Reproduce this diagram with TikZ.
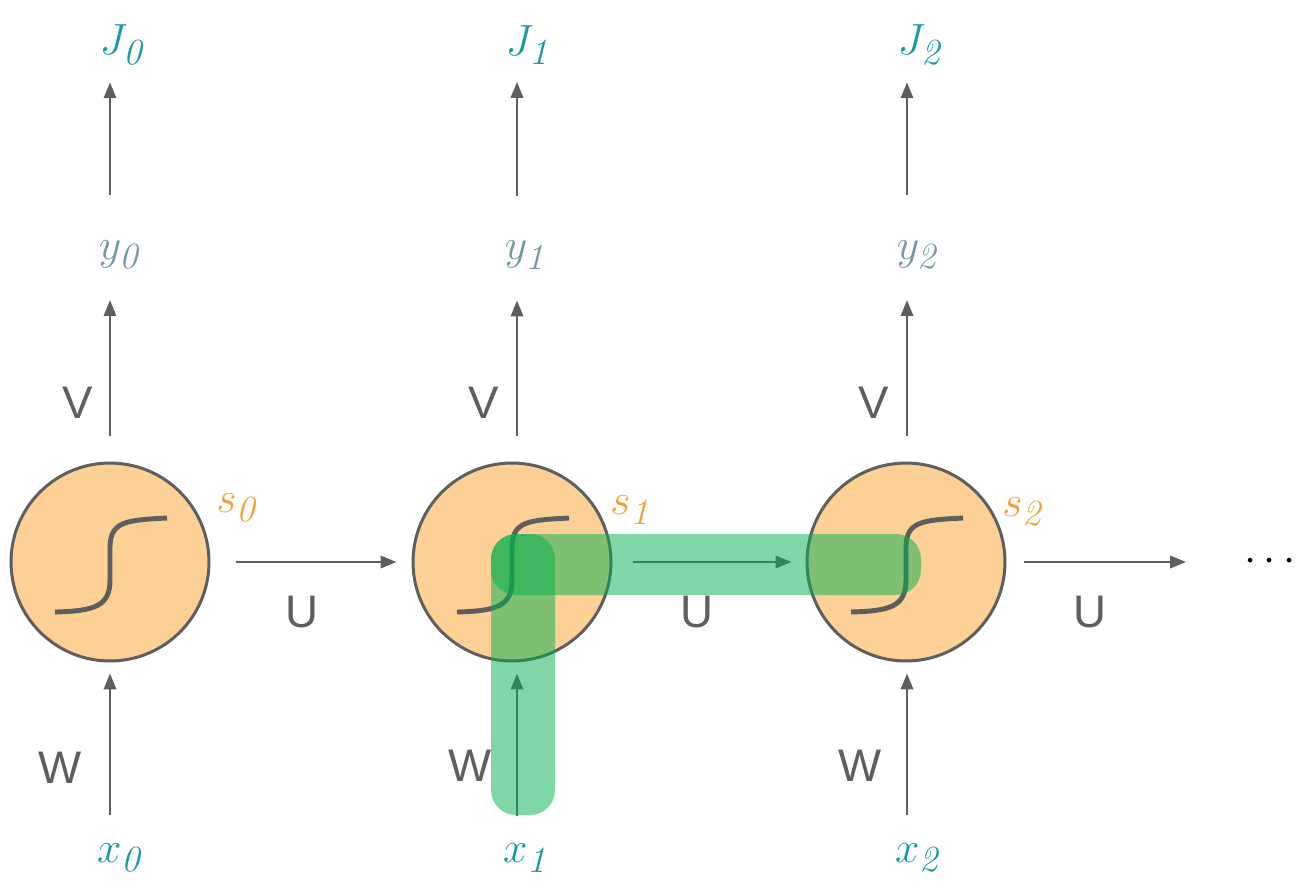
\documentclass[tikz,border=0pt]{standalone}
\usepackage{fontspec}
\usetikzlibrary{arrows.meta}
\newfontfamily\wtfont{Liberation Sans}
\DeclareMathSizes{26}{26}{21}{15}

\definecolor{cellfill}{HTML}{FDD096}
\definecolor{edgegray}{HTML}{5E5E5E}
\definecolor{iotxt}{HTML}{1A9AA0}
\definecolor{outtxt}{HTML}{7896A0}
\definecolor{statetxt}{HTML}{F5A033}
\definecolor{hlgreen}{HTML}{00B050}

\tikzset{
  cell/.style={circle, draw=edgegray, line width=1.7pt, fill=cellfill,
    minimum size=3.96cm, inner sep=0pt},
  link/.style={draw=edgegray, line width=1.3pt,
    -{Triangle[length=9pt,width=7pt]}},
  sigm/.style={draw=edgegray, line width=2.8pt},
  varlab/.style={font=\fontsize{26}{31}\selectfont, inner sep=0pt},
  wlab/.style={font=\wtfont\fontsize{26}{31}\selectfont, text=edgegray, inner sep=0pt},
  hlbar/.style={fill=hlgreen, fill opacity=0.5, rounded corners=0.5cm},
}

% sigmoide dentro la cella
\newcommand{\sigcurve}[1]{%
  \begin{scope}[shift={(#1.center)}]
    \draw[sigm] (-55,50) .. controls (-15,49) and (0,44) .. (0,18)
      -- (0,-16) .. controls (1,-40) and (15,-42) .. (57,-44);
  \end{scope}}

\begin{document}
\begin{tikzpicture}[x=0.02cm, y=-0.02cm]
    \useasboundingbox (0,0) rectangle (1298,894);

    % --- celle ricorrenti ---
    \node[cell] (cell0) at (110,562) {};
    \node[cell] (cell1) at (512,562) {};
    \node[cell] (cell2) at (906,562) {};
    \sigcurve{cell0}
    \sigcurve{cell1}
    \sigcurve{cell2}

    % assi verticali delle colonne
    \coordinate (col0) at (110,562);
    \coordinate (col1) at (517,562);
    \coordinate (col2) at (907,562);

    % stati
    \node[varlab, text=statetxt] (s0) at (236,508) {$s_{\mathit{0}}$};
    \node[varlab, text=statetxt] (s1) at (630,510) {$s_{\mathit{1}}$};
    \node[varlab, text=statetxt] (s2) at (1022,512) {$s_{\mathit{2}}$};

    % ingressi, uscite e costi
    \node[varlab, text=iotxt] (x0) at (119,858) {$x_{\mathit{0}}$};
    \node[varlab, text=iotxt] (x1) at (525,858) {$x_{\mathit{1}}$};
    \node[varlab, text=iotxt] (x2) at (917,858) {$x_{\mathit{2}}$};
    \node[varlab, text=outtxt] (y0) at (119,255) {$y_{\mathit{0}}$};
    \node[varlab, text=outtxt] (y1) at (525,255) {$y_{\mathit{1}}$};
    \node[varlab, text=outtxt] (y2) at (917,255) {$y_{\mathit{2}}$};
    \node[varlab, text=iotxt] (J0) at (121,45) {$J_{\mathit{0}}$};
    \node[varlab, text=iotxt] (J1) at (527,45) {$J_{\mathit{1}}$};
    \node[varlab, text=iotxt] (J2) at (919,45) {$J_{\mathit{2}}$};

    \node[varlab] (more) at (1270,562) {$\cdots$};
    \coordinate (next) at (1186,562);

    % --- archi verticali ---
    \draw[link, shorten <=0.56cm, shorten >=0.22cm] (col0 |- x0.north) -- (col0 |- cell0.south);
    \draw[link, shorten <=0.56cm, shorten >=0.22cm] (col1 |- x1.north) -- (col1 |- cell1.south);
    \draw[link, shorten <=0.56cm, shorten >=0.22cm] (col2 |- x2.north) -- (col2 |- cell2.south);
    \draw[link, shorten <=0.52cm, shorten >=1.2cm] (col0 |- cell0.north) -- (col0 |- y0.north);
    \draw[link, shorten <=0.52cm, shorten >=1.2cm] (col1 |- cell1.north) -- (col1 |- y1.north);
    \draw[link, shorten <=0.52cm, shorten >=1.2cm] (col2 |- cell2.north) -- (col2 |- y2.north);
    \draw[link, shorten <=0.9cm, shorten >=0.34cm] (col0 |- y0.north) -- (col0 |- J0.south);
    \draw[link, shorten <=0.9cm, shorten >=0.34cm] (col1 |- y1.north) -- (col1 |- J1.south);
    \draw[link, shorten <=0.9cm, shorten >=0.34cm] (col2 |- y2.north) -- (col2 |- J2.south);

    % --- archi orizzontali ---
    \draw[link, shorten <=0.52cm, shorten >=0.3cm] (cell0.east) -- (cell1.west);
    \draw[link, shorten <=0.42cm, shorten >=0.28cm] (cell1.east) -- (cell2.west);
    \draw[link, shorten <=0.36cm] (cell2.east) -- (next);

    % etichette dei pesi
    \node[wlab] (V0) at (78,403) {V};
    \node[wlab] (V1) at (484,403) {V};
    \node[wlab] (V2) at (874,403) {V};
    \node[wlab] (W0) at (60,768) {W};
    \node[wlab] (W1) at (470,766) {W};
    \node[wlab] (W2) at (860,766) {W};
    \node[wlab] (U0) at (302,612) {U};
    \node[wlab] (U1) at (697,612) {U};
    \node[wlab] (U2) at (1090,612) {U};

    % --- percorso evidenziato ---
    \fill[hlbar] (491,534) rectangle (921,595);
    \fill[hlbar] (491,534) rectangle (555,815);
\end{tikzpicture}
\end{document}
